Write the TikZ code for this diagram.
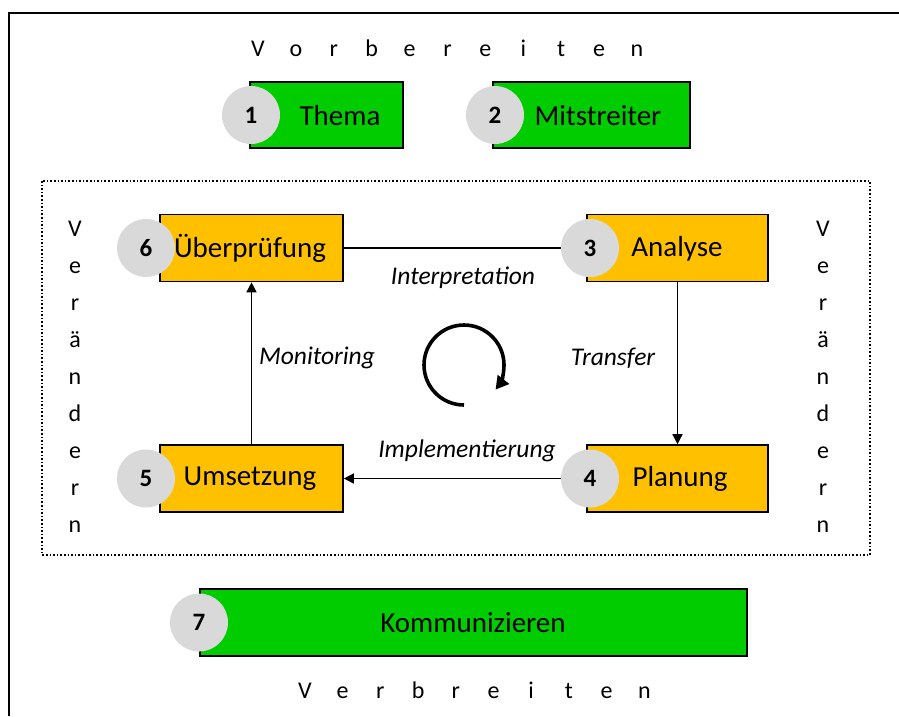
\documentclass[tikz,border=0pt]{standalone}
\usepackage{fontspec}
\setmainfont{Carlito}
\usetikzlibrary{arrows.meta}
\definecolor{boxgreen}{RGB}{0,204,0}
\definecolor{boxorange}{RGB}{255,192,0}
\definecolor{numgray}{RGB}{217,217,217}
\begin{document}
\begin{tikzpicture}[x=1pt,y=-1pt,
  gbox/.style={draw=black, line width=1.6pt, fill=boxgreen, inner sep=0pt},
  obox/.style={draw=black, line width=1.6pt, fill=boxorange, inner sep=0pt},
  numc/.style={circle, fill=numgray, minimum size=58pt, inner sep=0pt, font=\fontsize{25}{28}\selectfont\bfseries},
  lbl/.style={font=\fontsize{29}{32}\selectfont, inner sep=0pt},
  elbl/.style={font=\fontsize{25.5}{28}\selectfont\itshape, inner sep=0pt},
  spaced/.style={font=\fontsize{24}{28}\selectfont, inner sep=0pt, anchor=base},
  conn/.style={line width=1.4pt},
  arr/.style={line width=1.4pt, -{Triangle[length=10pt,width=10pt]}}
]
\useasboundingbox (0,0) rectangle (899,716);
\fill[white] (0,0) rectangle (899,716);

% outer frame (left and top only visible)
\coordinate (fbl) at (9,716);
\coordinate (ftl) at (9,13);
\coordinate (ftr) at (899,13);
\draw[line width=2.6pt] (fbl) -- (ftl) -- (ftr);

% spaced letters
\foreach \ch [count=\i from 0] in {V,o,r,b,e,r,e,i,t,e,n}
  \node[spaced] (top\i) at (258+37.9*\i,56) {\ch};
\foreach \ch [count=\i from 0] in {V,e,r,b,r,e,i,t,e,n}
  \node[spaced] (bot\i) at (305+37.7*\i,698) {\ch};
\foreach \ch [count=\i from 0] in {V,e,r,ä,n,d,e,r,n}{
  \node[spaced] (lv\i) at (75,236+37.1*\i) {\ch};
  \node[spaced] (rv\i) at (823,236+37.1*\i) {\ch};
}

% dotted frame
\coordinate (dtl) at (42,181);
\coordinate (dbr) at (870,555);
\draw[dotted, line width=1.6pt] (dtl) rectangle (dbr);

% box 1
\node[gbox, minimum width=153pt, minimum height=66pt] (b1) at (326.5,115) {};
\node[numc] (c1) at (251,115) {1};
\node[lbl] (t1) at (340,116) {Thema};
% box 2
\node[gbox, minimum width=197pt, minimum height=66pt] (b2) at (591.5,115) {};
\node[numc] (c2) at (495,115) {2};
\node[lbl] (t2) at (598,116) {Mitstreiter};

% loop boxes
\node[obox, minimum width=183pt, minimum height=67pt] (b6) at (251.5,248) {};
\node[numc] (c6) at (146,248) {6};
\node[lbl] (t6) at (250,248) {Überprüfung};

\node[obox, minimum width=181pt, minimum height=67pt] (b3) at (677.5,248) {};
\node[numc] (c3) at (590,248) {3};
\node[lbl] (t3) at (677,249) {Analyse};

\node[obox, minimum width=183pt, minimum height=67pt] (b5) at (251.5,478.5) {};
\node[numc] (c5) at (146,478.5) {5};
\node[lbl] (t5) at (250,479) {Umsetzung};

\node[obox, minimum width=181pt, minimum height=67pt] (b4) at (677.5,478.5) {};
\node[numc] (c4) at (590,478.5) {4};
\node[lbl] (t4) at (680,479) {Planung};

% box 7
\node[gbox, minimum width=547pt, minimum height=67pt] (b7) at (473.5,622.5) {};
\node[numc] (c7) at (199,622.5) {7};
\node[lbl] (t7) at (473,623) {Kommunizieren};

% connectors
\draw[conn] (b6.east) -- (c3.west);
\draw[arr] (b3.south) -- (b4.north);
\draw[arr] (c4.west) -- (b5.east);
\draw[arr] (b5.north) -- (b6.south);

% edge labels
\node[elbl] (e1) at (463,278) {Interpretation};
\node[elbl] (e2) at (613,358) {Transfer};
\node[elbl] (e3) at (467,451) {Implementierung};
\node[elbl] (e4) at (317,358) {Monitoring};

% cycle arrow
\coordinate (lc) at (464,365);
\draw[line width=3.6pt, -{Triangle[length=13pt,width=14pt]}] (lc) ++(90:40) arc[start angle=90, end angle=398, radius=40];
\end{tikzpicture}
\end{document}
